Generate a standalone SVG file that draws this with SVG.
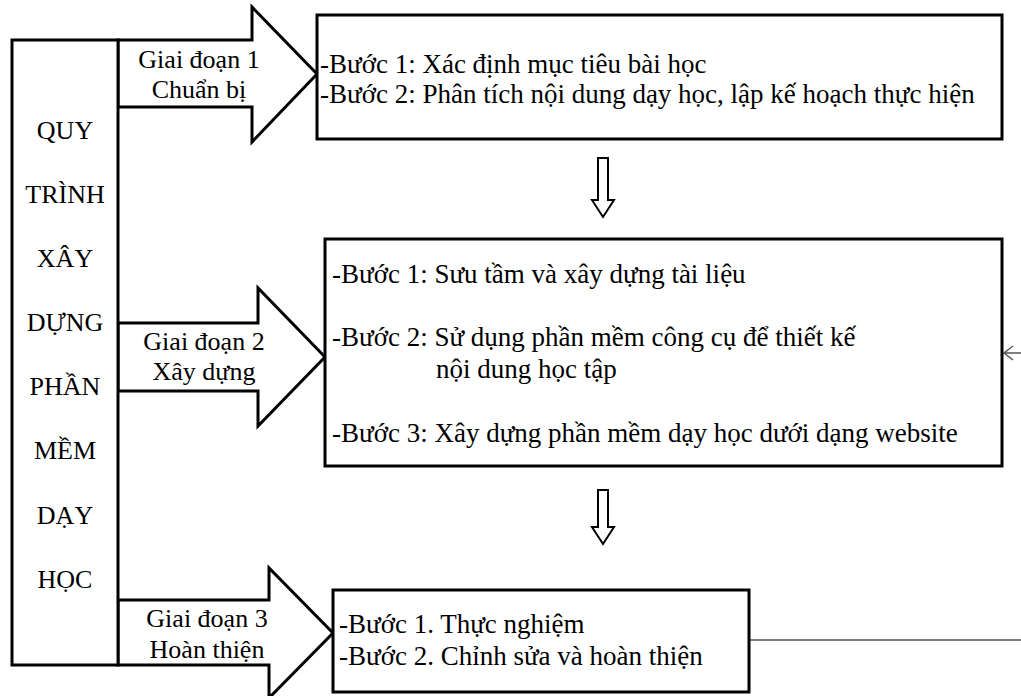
<svg xmlns="http://www.w3.org/2000/svg" width="1021" height="696" viewBox="0 0 1021 696">
  <style>
    .shape { fill: #ffffff; stroke: #000000; stroke-width: 3; stroke-linejoin: miter; }
    .down { fill: #ffffff; stroke: #000000; stroke-width: 2; }
    .thin { fill: none; stroke: #555555; stroke-width: 1.5; }
    text { font-family: "Liberation Serif", "Times New Roman", serif; font-size: 26px; fill: #000000; }
    .mid { text-anchor: middle; }
    .box { font-size: 27px; }
  </style>
  <rect width="1021" height="696" fill="#ffffff"/>

  <g id="connectors">
    <polygon class="down" points="598,158 608,158 608,200 614,200 603,217 592,200 598,200"/>
    <polygon class="down" points="598,490 608,490 608,527 614,527 603,544 592,527 598,527"/>
    <line class="thin" x1="750" y1="640" x2="1021" y2="640"/>
    <line class="thin" x1="1004" y1="353" x2="1021" y2="353"/>
    <polyline class="thin" points="1013,346 1004,353 1013,360"/>
  </g>

  <g id="arrow1">
    <polygon class="shape" points="118,40 252,40 252,7 317,74 252,142 252,107 118,107"/>
    <text class="mid" x="199" y="68">Giai đoạn 1</text>
    <text class="mid" x="199" y="98">Chuẩn bị</text>
  </g>
  <g id="arrow2">
    <polygon class="shape" points="118,323 258,323 258,288 325,357 258,426 258,391 118,391"/>
    <text class="mid" x="204" y="350">Giai đoạn 2</text>
    <text class="mid" x="204" y="380">Xây dựng</text>
  </g>
  <g id="arrow3">
    <polygon class="shape" points="118,600 269,600 269,568 333,633 269,698 269,665 118,665"/>
    <text class="mid" x="207" y="627">Giai đoạn 3</text>
    <text class="mid" x="207" y="658">Hoàn thiện</text>
  </g>

  <g id="process">
    <rect class="shape" x="12" y="40" width="106" height="625"/>
    <text class="mid" x="65" y="139">QUY</text>
    <text class="mid" x="65" y="203">TRÌNH</text>
    <text class="mid" x="65" y="267">XÂY</text>
    <text class="mid" x="65" y="331">DỰNG</text>
    <text class="mid" x="65" y="395">PHẦN</text>
    <text class="mid" x="65" y="459">MỀM</text>
    <text class="mid" x="65" y="524">DẠY</text>
    <text class="mid" x="65" y="588">HỌC</text>
  </g>

  <g id="stage1">
    <rect class="shape" x="317" y="15" width="685" height="124"/>
    <text class="box" x="320" y="73">-Bước 1: Xác định mục tiêu bài học</text>
    <text class="box" x="320" y="103">-Bước 2: Phân tích nội dung dạy học, lập kế hoạch thực hiện</text>
  </g>

  <g id="stage2">
    <rect class="shape" x="325" y="239" width="677" height="227"/>
    <text class="box" x="332" y="283">-Bước 1: Sưu tầm và xây dựng tài liệu</text>
    <text class="box" x="332" y="346">-Bước 2: Sử dụng phần mềm công cụ để thiết kế</text>
    <text class="box" x="436" y="378">nội dung học tập</text>
    <text class="box" x="332" y="442">-Bước 3: Xây dựng phần mềm dạy học dưới dạng website</text>
  </g>

  <g id="stage3">
    <rect class="shape" x="333" y="590" width="416" height="102"/>
    <text class="box" x="339" y="633">-Bước 1. Thực nghiệm</text>
    <text class="box" x="339" y="665">-Bước 2. Chỉnh sửa và hoàn thiện</text>
  </g>
</svg>
